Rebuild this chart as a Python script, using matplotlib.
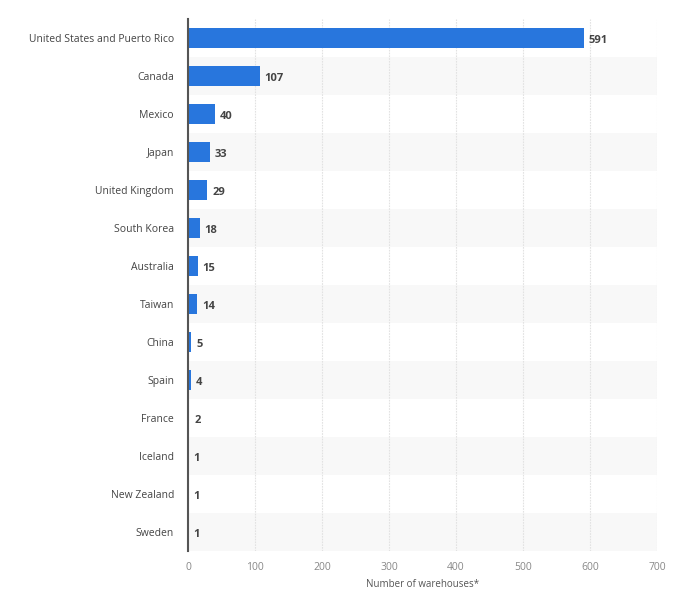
import matplotlib
matplotlib.use("Agg")
import matplotlib.pyplot as plt

countries = ["United States and Puerto Rico", "Canada", "Mexico", "Japan", "United Kingdom",
             "South Korea", "Australia", "Taiwan", "China", "Spain", "France", "Iceland",
             "New Zealand", "Sweden"]
warehouses = [591, 107, 40, 33, 29, 18, 15, 14, 5, 4, 2, 1, 1, 1]
xticks = [0, 100, 200, 300, 400, 500, 600, 700]

plt.rcParams['font.family'] = ['Open Sans', 'DejaVu Sans']

fig = plt.figure(figsize=(6.79, 6.0), dpi=100)
ax = fig.add_axes([188/679, 49/600, 469/679, 532/600])

n = len(countries)
ys = list(range(n))
for i in ys:
    if i % 2 == 1:
        ax.axhspan(i - 0.5, i + 0.5, color="#f8f8f8", zorder=0, lw=0)

ax.barh(ys, warehouses, height=0.55, color="#2876dd", zorder=3)
for y, v in zip(ys, warehouses):
    ax.text(v + 7, y + 0.06, str(v), va="center", ha="left", fontsize=8, fontweight="bold",
            color="#444444", zorder=4)

ax.set_ylim(n - 0.5, -0.5)
ax.set_xlim(0, 700)
ax.set_yticks(ys)
ax.set_yticklabels(countries, fontsize=7.5, color="#444444")
ax.set_xticks(xticks)
ax.set_xticklabels([str(t) for t in xticks], fontsize=7.5, color="#888888")
ax.tick_params(axis="both", length=0)
ax.tick_params(axis="y", pad=10)
ax.tick_params(axis="x", pad=8)
ax.set_xlabel("Number of warehouses*", fontsize=7, color="#555555", labelpad=4)

ax.grid(axis="x", color="#e2e2e2", linestyle=(0, (1.5, 1)), linewidth=0.8, zorder=1)
ax.set_axisbelow(True)
for s in ["top", "right", "bottom"]:
    ax.spines[s].set_visible(False)
ax.spines["left"].set_color("#555555")
ax.spines["left"].set_linewidth(1.5)
ax.spines["left"].set_zorder(5)

fig.savefig("out.png", dpi=100, facecolor="white")
